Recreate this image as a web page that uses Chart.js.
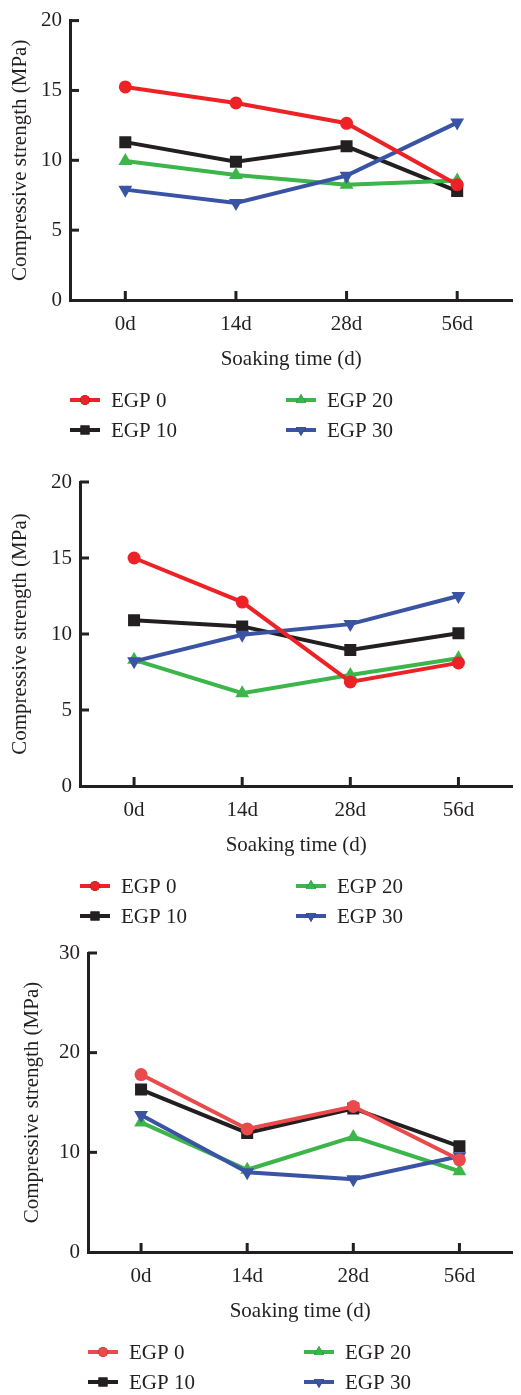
<!DOCTYPE html>
<html lang="en">
<head>
    <meta charset="UTF-8">
    <title>Compressive strength</title>
    <style>
        body { margin: 0; background: #fff; width: 521px; height: 1395px; position: relative; overflow: hidden; }
        .box { position: absolute; left: 0; width: 521px; }
    </style>
</head>
<body>
    <div class="box" style="top:0px; height:450px;"><canvas id="chart1"></canvas></div>
    <div class="box" style="top:460px; height:470px;"><canvas id="chart2"></canvas></div>
    <div class="box" style="top:930px; height:465px;"><canvas id="chart3"></canvas></div>
</body>
<script src="https://cdn.jsdelivr.net/npm/chart.js@4.4.1/dist/chart.umd.min.js"></script>
<script>
    var dias = ["0d", "14d", "28d", "56d"];
    var series = ["EGP 0", "EGP 10", "EGP 20", "EGP 30"];

    // chart 1
    var egp0_a = [15.25, 14.1, 12.65, 8.25];
    var egp10_a = [11.3, 9.9, 11.0, 7.8];
    var egp20_a = [9.95, 8.95, 8.25, 8.55];
    var egp30_a = [7.9, 6.95, 8.9, 12.7];
    // chart 2
    var egp0_b = [15.0, 12.1, 6.85, 8.1];
    var egp10_b = [10.9, 10.5, 8.95, 10.05];
    var egp20_b = [8.3, 6.1, 7.3, 8.4];
    var egp30_b = [8.2, 9.95, 10.65, 12.5];
    // chart 3
    var egp0_c = [17.8, 12.35, 14.6, 9.25];
    var egp10_c = [16.3, 11.95, 14.4, 10.6];
    var egp20_c = [13.0, 8.25, 11.55, 8.1];
    var egp30_c = [13.75, 8.0, 7.3, 9.6];

    var ticksAB = [0, 5, 10, 15, 20];
    var ticksC = [0, 10, 20, 30];

    var fuente = "'Liberation Serif', 'Times New Roman', serif";
    var negro = "#231f20";

    // inward tick marks on both axes
    var marcas = {
        id: 'marcas',
        afterDraw: function(chart) {
            var ctx = chart.ctx;
            var x = chart.scales.x, y = chart.scales.y;
            var a = chart.chartArea;
            ctx.save();
            ctx.strokeStyle = negro;
            ctx.lineWidth = 3;
            for (var i = 0; i < x.ticks.length; i++) {
                var px = x.getPixelForTick(i);
                ctx.beginPath(); ctx.moveTo(px, a.bottom - 9); ctx.lineTo(px, a.bottom); ctx.stroke();
            }
            for (var j = 0; j < y.ticks.length; j++) {
                if (y.ticks[j].value == 0) continue;
                var py = y.getPixelForTick(j);
                ctx.beginPath(); ctx.moveTo(a.left, py); ctx.lineTo(a.left + 9, py); ctx.stroke();
            }
            ctx.restore();
        }
    };

    // two-column legend under the axis title
    var leyenda = {
        id: 'leyenda',
        afterDraw: function(chart) {
            var ctx = chart.ctx;
            var a = chart.chartArea;
            ctx.save();
            chart.data.datasets.forEach(function(ds, i) {
                var col = Math.floor(i / 2), fila = i % 2;
                var x0 = a.left + col * 216;
                var y0 = a.bottom + 100 + fila * 30;
                ctx.strokeStyle = ds.borderColor;
                ctx.lineWidth = 4;
                ctx.beginPath(); ctx.moveTo(x0, y0); ctx.lineTo(x0 + 30, y0); ctx.stroke();
                Chart.helpers.drawPoint(ctx, {
                    pointStyle: ds.pointStyle, rotation: ds.rotation || 0, radius: ds.pointRadius * 0.75, borderWidth: 0
                }, x0 + 15, y0);
                ctx.fillStyle = ds.pointBackgroundColor;
                ctx.fill();
                ctx.fillStyle = negro;
                ctx.font = "21px " + fuente;
                ctx.textBaseline = "middle";
                ctx.textAlign = "left";
                ctx.fillText(ds.label, x0 + 41, y0 + 1);
            });
            ctx.restore();
        }
    };

    function serie(label, data, color, estilo, rot, radio, orden) {
        return {
            label: label,
            data: data,
            borderColor: color,
            backgroundColor: color,
            pointBackgroundColor: color,
            pointBorderColor: color,
            pointBorderWidth: 0,
            borderWidth: 4,
            pointStyle: estilo,
            rotation: rot,
            pointRadius: radio,
            order: orden,
            tension: 0
        };
    }

    function crear(id, valores, colores, ymax, tickList, ejeX, pad, tituloPad) {
        var ctx = document.getElementById(id).getContext('2d');
        return new Chart(ctx, {
            type: 'line',
            data: {
                labels: dias,
                datasets: [
                    serie(series[0], valores[0], colores[0], 'circle', 0, 6.5, 0),
                    serie(series[1], valores[1], colores[1], 'rect', 0, 8.5, 3),
                    serie(series[2], valores[2], colores[2], 'triangle', 0, 8, 2),
                    serie(series[3], valores[3], colores[3], 'triangle', 180, 8, 1)
                ]
            },
            options: {
                responsive: true,
                maintainAspectRatio: false,
                animation: false,
                layout: { padding: pad },
                plugins: { legend: { display: false }, tooltip: { enabled: false } },
                scales: {
                    x: {
                        offset: true,
                        grid: { display: false, drawTicks: false },
                        border: { display: true, color: negro, width: 3 },
                        ticks: { color: negro, padding: 12, font: { family: fuente, size: 21 } },
                        title: { display: true, text: 'Soaking time (d)', color: negro, padding: 3, font: { family: fuente, size: 21 } },
                        afterFit: function(s) { s.height = 75; }
                    },
                    y: {
                        min: 0,
                        max: ymax,
                        grid: { display: false, drawTicks: false },
                        border: { display: true, color: negro, width: 3 },
                        afterBuildTicks: function(s) { s.ticks = tickList.map(function(v) { return { value: v }; }); },
                        ticks: { color: negro, padding: 8, font: { family: fuente, size: 21 } },
                        title: { display: true, text: 'Compressive strength (MPa)', color: negro, padding: tituloPad, font: { family: fuente, size: 21 } },
                        afterFit: function(s) { s.width = ejeX; }
                    }
                }
            },
            plugins: [marcas, leyenda]
        });
    }

    var coloresA = ["#ec2227", "#231f20", "#3cb54a", "#3a53a4"];
    var coloresC = ["#ea4a4c", "#231f20", "#3cb54a", "#3a53a4"];

    crear('chart1', [egp0_a, egp10_a, egp20_a, egp30_a], coloresA, 20, ticksAB, 70,
        { top: 15, bottom: 75, left: 0, right: 0 }, 8);
    crear('chart2', [egp0_b, egp10_b, egp20_b, egp30_b], coloresA, 20, ticksAB, 80,
        { top: 22, bottom: 69, left: 0, right: 8 }, 8);
    crear('chart3', [egp0_c, egp10_c, egp20_c, egp30_c], coloresC, 30, ticksC, 88,
        { top: 23, bottom: 68, left: 0, right: 1 }, 20);
</script>
</html>
